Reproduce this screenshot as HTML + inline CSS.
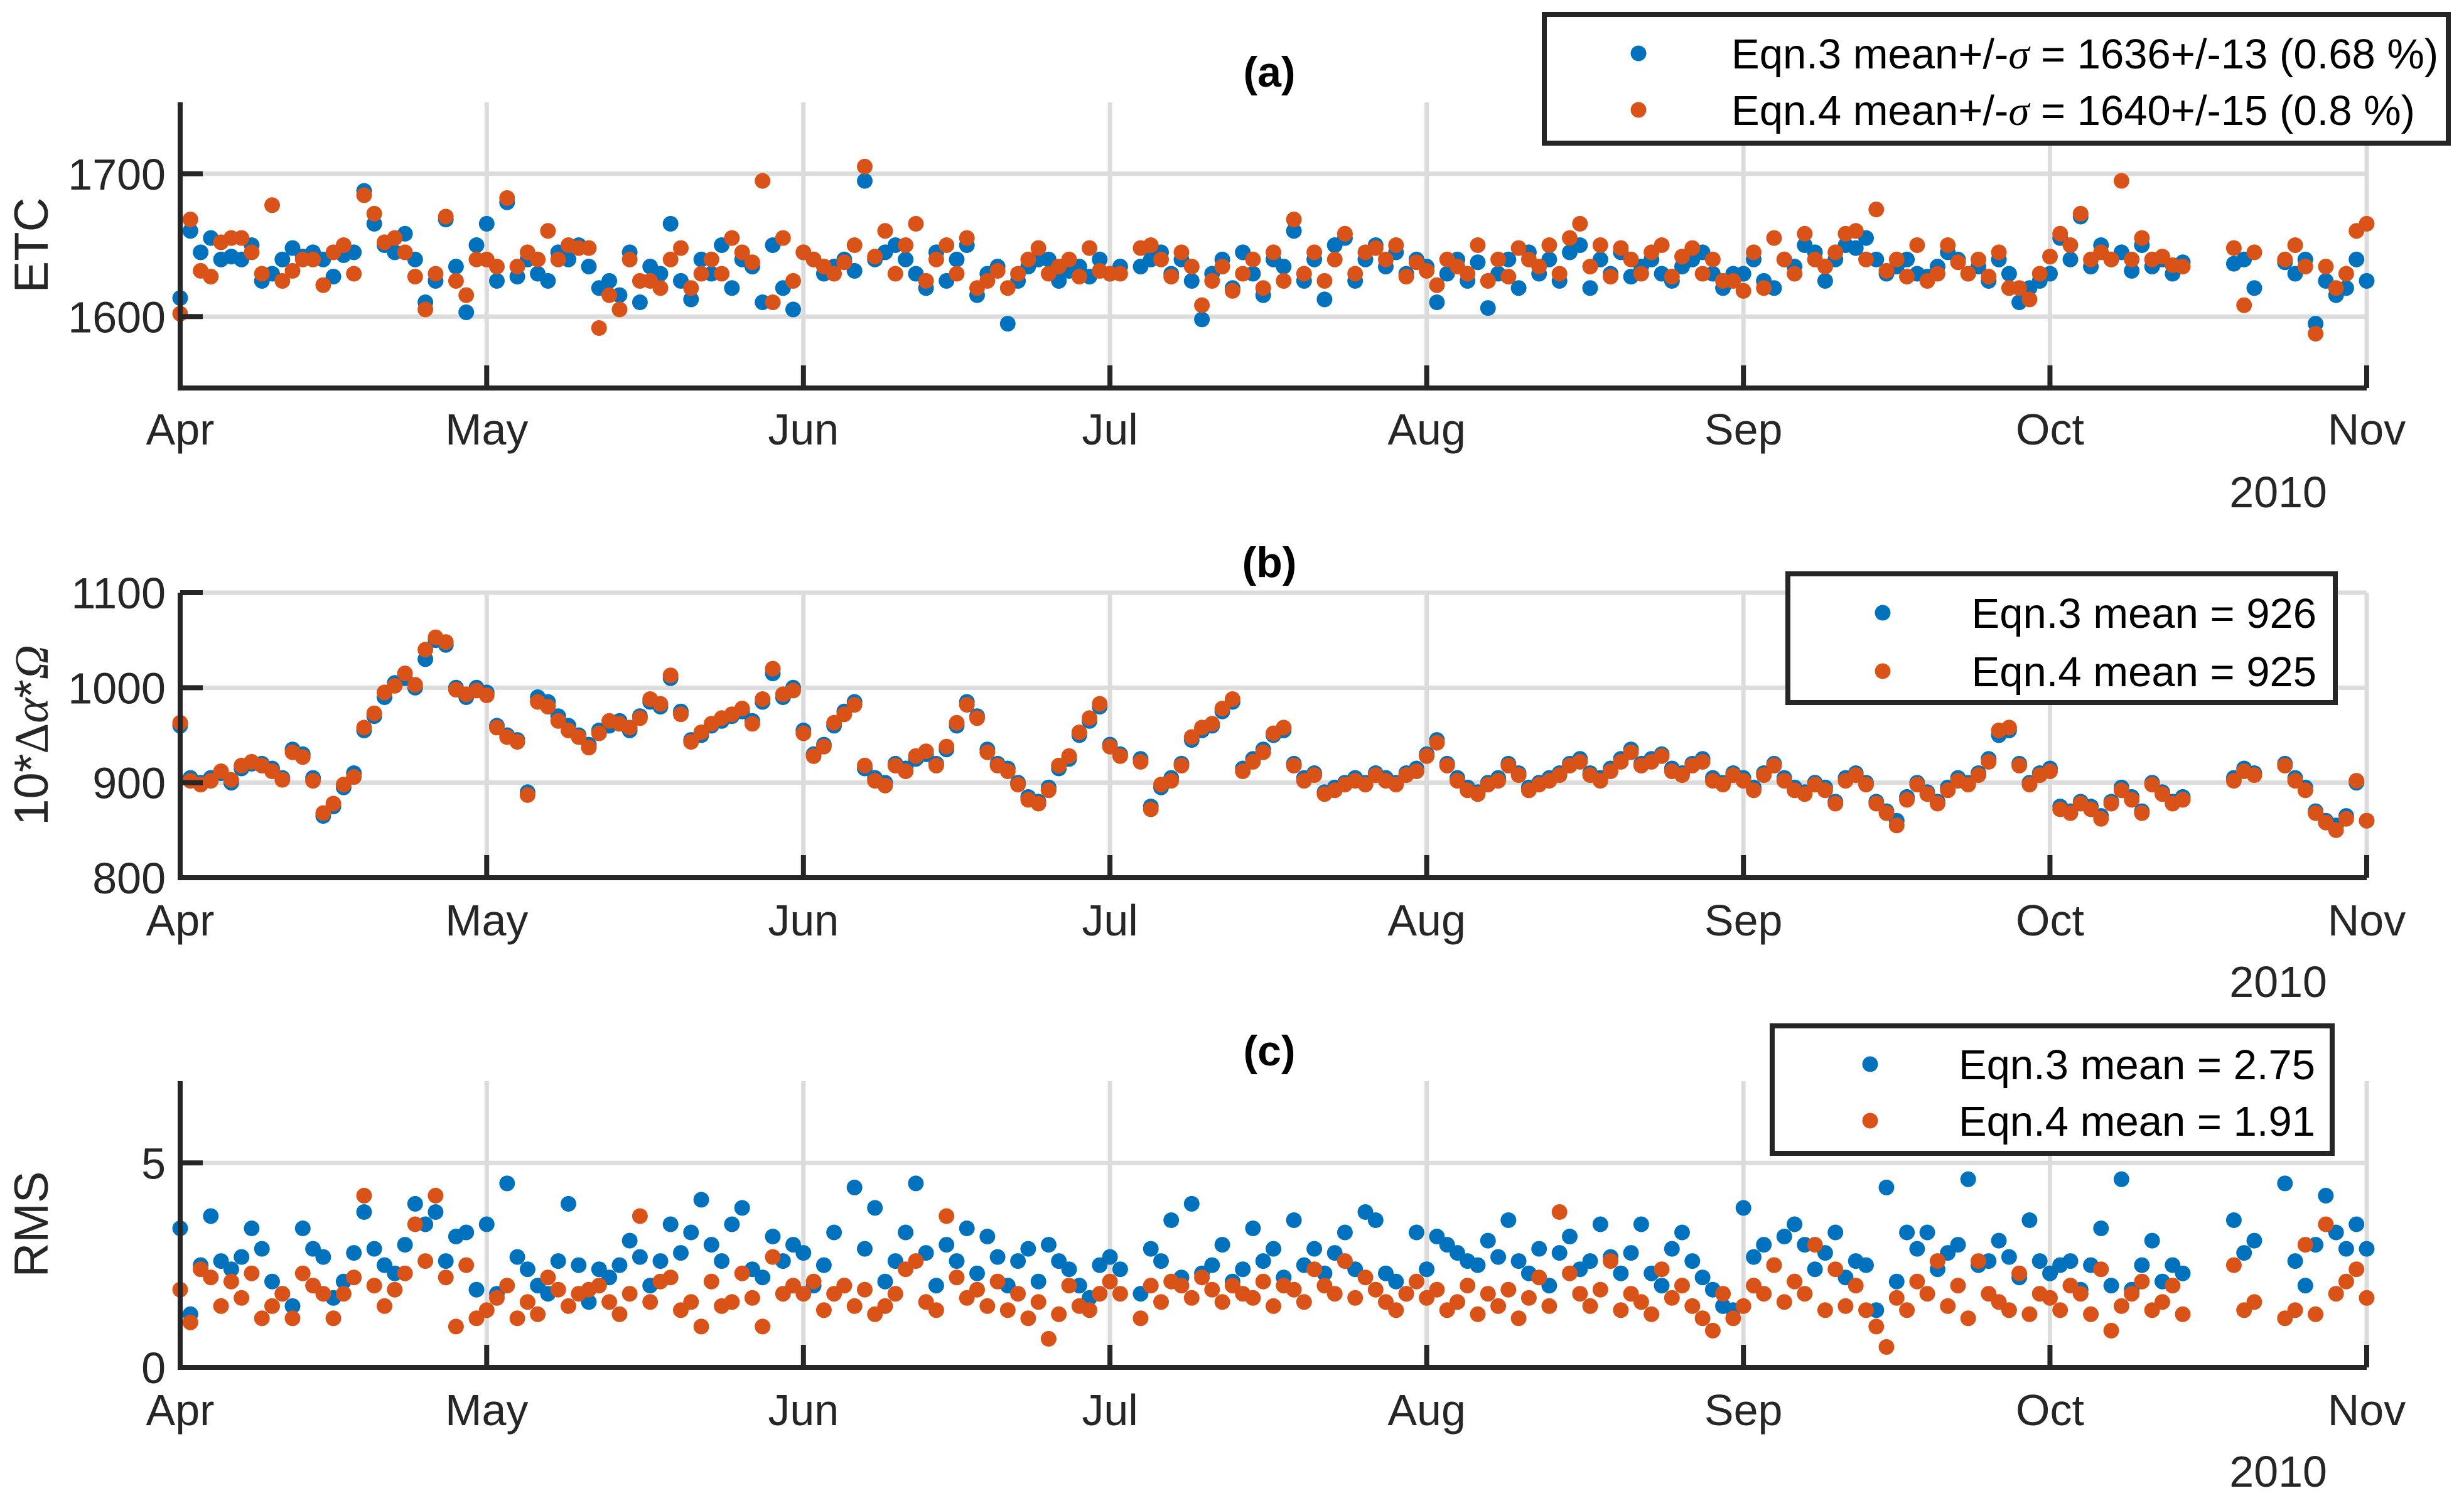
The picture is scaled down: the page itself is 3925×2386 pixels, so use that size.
<!DOCTYPE html>
<html><head><meta charset="utf-8"><style>
html,body{margin:0;padding:0;background:#fff}
svg{display:block;font-family:"Liberation Sans",Arial,sans-serif}
</style></head><body>
<svg id="chart" width="3925" height="2386" viewBox="0 0 3925 2386" xmlns="http://www.w3.org/2000/svg">
<rect width="3925" height="2386" fill="#fff"/>
<g id="root"></g>
</svg>
<script>
var monthLabels=["Apr","May","Jun","Jul","Aug","Sep","Oct","Nov"];
var monthDays=[0,30,61,91,122,153,183,214];
var aTicks=[1600,1700];
var bTicks=[800,900,1000,1100];
var cTicks=[0,5];
var a3=[1613,1660,1645,1655,1640,1642,1640,1650,1625,1630,1640,1648,1642,1645,1640,1628,1643,1645,1688,1665,1650,1645,1658,1640,1610,1625,1668,1635,1603,1650,
1665,1625,1680,1628,1640,1630,1625,1645,1640,1650,1635,1620,1625,1615,1645,1610,1635,1630,1665,1625,1612,1640,1630,1650,1620,1640,1635,1610,1650,1620,1605,
1645,1640,1630,1635,1640,1632,1695,1640,1645,1650,1640,1630,1620,1645,1625,1640,1650,1615,1630,1635,1595,1625,1635,1640,1640,1625,1632,1635,1628,1640,
1630,1635,null,1635,1640,1645,1630,1640,1625,1598,1630,1640,1620,1645,1630,1615,1640,1635,1660,1625,1640,1612,1650,1655,1625,1640,1650,1635,1645,1630,1640,
1635,1610,1630,1640,1625,1638,1606,1630,1640,1620,1645,1630,1640,1625,1645,1650,1620,1640,1630,1645,1628,1635,1640,1630,1625,1635,1640,1645,1630,1620,1630,
1630,1640,1625,1620,1640,1635,1650,1645,1625,1640,1650,1648,1655,1640,1630,1635,1640,1630,1628,1635,1645,1640,1630,1635,1625,1640,1630,1610,1620,1625,
1630,1655,1640,1670,1635,1650,1640,1645,1632,1650,1635,1640,1630,1638,null,null,null,null,1637,1640,1620,null,null,1638,1630,1640,1595,1625,1615,1620,1640,1625];
var a4=[1602,1668,1632,1628,1652,1655,1655,1645,1630,1678,1625,1632,1640,1640,1622,1645,1650,1630,1685,1672,1652,1655,1645,1628,1605,1630,1670,1625,1615,1640,
1640,1635,1683,1635,1645,1640,1660,1640,1650,1648,1648,1592,1615,1605,1640,1625,1625,1620,1640,1648,1620,1630,1640,1630,1655,1645,1638,1695,1610,1655,1625,
1645,1640,1635,1630,1638,1650,1705,1642,1660,1630,1650,1665,1625,1640,1650,1630,1655,1620,1625,1632,1620,1630,1640,1648,1630,1635,1640,1628,1648,1632,
1630,1630,null,1648,1650,1640,1628,1645,1635,1608,1625,1635,1618,1630,1640,1620,1645,1625,1668,1630,1645,1625,1640,1658,1630,1645,1648,1640,1650,1628,1638,
1632,1622,1640,1635,1630,1650,1625,1640,1628,1648,1640,1635,1650,1630,1655,1665,1635,1650,1628,1648,1640,1630,1645,1650,1628,1642,1648,1630,1640,1625,1625,
1618,1645,1620,1655,1640,1630,1658,1640,1635,1645,1658,1660,1640,1675,1632,1640,1628,1650,1625,1630,1650,1638,1630,1640,1628,1645,1620,1620,1612,1630,
1642,1658,1650,1672,1640,1645,1640,1695,1640,1655,1640,1642,1636,1635,null,null,null,null,1648,1608,1645,null,null,1640,1650,1635,1588,1635,1620,1630,1660,1665];
var b3=[960,905,900,905,910,900,915,920,920,915,905,935,930,905,865,875,895,910,955,970,990,1005,1010,1000,1030,1050,1045,1000,990,1000,
995,960,950,945,890,990,985,970,960,950,940,955,960,965,955,970,985,980,1010,975,945,950,960,965,970,975,965,985,1015,990,1000,
955,930,940,960,975,985,915,905,900,920,915,925,930,920,935,960,985,970,935,920,915,900,885,880,895,915,925,950,965,980,
940,930,null,925,875,895,905,920,945,955,960,975,985,915,925,935,950,955,920,905,910,890,895,900,905,900,910,905,900,910,915,
930,945,920,905,895,890,900,905,920,910,895,900,905,910,920,925,910,905,915,925,935,920,925,930,915,910,920,925,905,900,910,
905,895,910,920,905,895,890,900,895,880,905,910,900,880,870,860,885,900,890,880,895,905,900,910,925,950,955,920,900,910,
915,875,870,880,875,865,880,895,885,870,900,890,880,885,null,null,null,null,905,915,910,null,null,920,905,895,870,860,855,865,900,860];
var b4=[963,902,898,902,912,903,918,922,918,912,903,932,927,902,868,878,898,906,958,973,995,1002,1015,1003,1040,1053,1048,998,993,997,
992,958,948,943,887,985,980,965,955,948,937,952,965,962,958,968,988,983,1013,972,943,953,962,968,972,978,962,988,1020,993,997,
952,928,938,963,972,982,918,902,897,918,912,928,933,918,938,963,982,968,932,918,912,898,882,878,892,918,928,953,968,983,
938,928,null,922,872,898,902,918,948,958,962,978,988,912,922,932,952,958,918,902,908,888,892,898,902,898,908,902,898,908,912,
928,942,918,902,892,888,898,902,918,908,892,898,902,908,918,922,908,902,912,922,932,918,922,928,912,908,918,922,902,898,908,
902,892,908,918,902,892,888,898,892,878,902,908,898,878,868,855,882,898,888,878,892,902,898,908,922,955,958,918,898,908,
912,872,868,878,872,862,878,892,882,868,898,888,878,882,null,null,null,null,902,912,908,null,null,918,902,892,868,858,850,862,902,860];
var c3=[3.4,1.3,2.5,3.7,2.6,2.4,2.7,3.4,2.9,2.1,1.8,1.5,3.4,2.9,2.7,1.7,2.1,2.8,3.8,2.9,2.5,2.3,3.0,4.0,3.5,3.8,2.6,3.2,3.3,1.9,
3.5,1.8,4.5,2.7,2.4,2.0,1.8,2.6,4.0,2.5,1.6,2.4,2.2,2.5,3.1,2.7,2.0,2.6,3.5,2.8,3.3,4.1,3.0,2.6,3.5,3.9,2.4,2.2,3.2,2.6,3.0,
2.8,2.0,2.5,3.3,2.0,4.4,2.9,3.9,2.1,2.6,3.3,4.5,2.8,2.0,3.0,2.6,3.4,2.3,3.2,2.7,2.0,2.6,2.9,2.1,3.0,2.6,2.4,2.0,1.7,2.5,
2.7,2.4,null,1.8,2.9,2.6,3.6,2.2,4.0,2.3,2.5,3.0,2.1,2.4,3.4,2.6,2.9,2.2,3.6,2.5,2.9,2.3,2.8,3.3,2.4,3.8,3.6,2.3,2.1,1.8,3.3,
2.4,3.2,3.0,2.8,2.6,2.5,3.1,2.7,3.6,2.6,2.3,2.9,2.0,2.8,3.2,2.4,2.6,3.5,2.7,2.3,2.8,3.5,2.3,2.0,2.9,3.3,2.6,2.2,1.9,1.5,1.4,
3.9,2.7,3.0,2.5,3.2,3.5,3.0,2.4,2.8,3.3,2.2,2.6,2.5,1.4,4.4,2.1,3.3,2.9,3.3,2.4,2.8,3.0,4.6,2.5,2.6,3.1,2.7,2.2,3.6,2.6,
2.3,2.5,2.6,1.9,2.5,3.4,2.0,4.6,1.9,2.5,3.1,2.1,2.5,2.3,null,null,null,null,3.6,2.8,3.1,null,null,4.5,2.6,2.0,3.0,4.2,3.3,2.9,3.5,2.9];
var c4=[1.9,1.1,2.4,2.2,1.5,2.1,1.7,2.3,1.2,1.5,1.8,1.2,2.3,2.0,1.8,1.2,1.8,2.2,4.2,2.0,1.5,1.9,2.3,3.5,2.6,4.2,2.2,1.0,2.5,1.2,
1.4,1.7,2.0,1.2,1.6,1.3,2.2,1.9,1.5,1.8,1.9,2.0,1.6,1.3,1.8,3.7,1.6,2.1,2.2,1.4,1.6,1.0,2.1,1.5,1.6,2.3,1.7,1.0,2.7,1.8,2.0,
1.8,2.1,1.4,1.8,2.0,1.5,1.9,1.3,1.5,1.8,2.4,2.6,1.6,1.4,3.7,2.2,1.7,1.9,1.5,2.1,1.4,1.8,1.2,1.6,0.7,1.3,2.0,1.5,1.4,1.8,
2.1,1.8,null,1.2,2.0,1.6,2.1,2.0,1.7,2.2,1.9,1.6,2.0,1.8,1.7,2.1,1.5,2.0,1.9,1.6,2.4,2.0,1.8,2.6,1.7,2.2,1.9,1.6,1.4,1.8,2.1,
1.7,1.9,1.4,1.6,2.0,1.3,1.8,1.5,1.9,1.2,1.7,2.2,1.5,3.8,2.3,1.8,1.5,1.9,2.6,1.4,1.8,1.6,1.3,2.4,1.7,2.0,1.5,1.2,0.9,1.8,1.2,
1.5,2.0,1.8,2.5,1.6,2.1,1.8,3.0,1.4,2.4,1.5,2.0,1.4,1.0,0.5,1.7,1.4,2.1,1.8,2.6,1.5,2.0,1.2,2.6,1.8,1.6,1.4,2.3,1.3,1.8,
1.7,1.4,2.0,1.8,1.3,2.4,0.9,1.5,1.8,2.1,1.4,1.6,2.0,1.3,null,null,null,null,2.5,1.4,1.6,null,null,1.2,1.4,3.0,1.3,3.5,1.8,2.1,2.4,1.7];

var NS="http://www.w3.org/2000/svg";
var root=document.getElementById('root');
var L=287,R=3770,MR=12.5;
function xs(d){return L+(R-L)*d/214;}
function mk(tag,at,parent){var e=document.createElementNS(NS,tag);for(var k in at)e.setAttribute(k,at[k]);(parent||root).appendChild(e);return e;}
var panels=[
 {id:'a',top:163,bot:618,min:1550,max:1750,ticks:aTicks,s3:a3,s4:a4,title:'(a)',ylab:['ETC'],lbY:708,yrY:808},
 {id:'b',top:944,bot:1398,min:800,max:1100,ticks:bTicks,s3:b3,s4:b4,title:'(b)',ylab:['10*','\u0394','\u03B1','*','\u03A9'],lbY:1490,yrY:1588},
 {id:'c',top:1722,bot:2178,min:0,max:7,ticks:cTicks,s3:c3,s4:c4,title:'(c)',ylab:['RMS'],lbY:2270,yrY:2368}
];
panels.forEach(function(p){
 var g=mk('g',{});
 
 
 function ys(v){return p.bot-(p.bot-p.top)*(v-p.min)/(p.max-p.min);}
 monthDays.forEach(function(d,i){
  if(i===0)return;
  var l=mk('line',{x1:xs(d),x2:xs(d),y1:p.top,y2:p.bot,stroke:'#dcdcdc','stroke-width':7},g);
  
  
 });
 p.ticks.forEach(function(t){
  if(t===p.min)return;
  var l=mk('line',{x1:L,x2:R,y1:ys(t),y2:ys(t),stroke:'#dcdcdc','stroke-width':7},g);
  
  
 });
 [[p.s3,'#0072BD','eqn3'],[p.s4,'#D95319','eqn4']].forEach(function(s){
  s[0].forEach(function(v,d){
   if(v===null)return;
   var c=mk('circle',{cx:xs(d).toFixed(1),cy:ys(v).toFixed(1),r:MR,fill:s[1]},g);
   
   
  });
 });
 var ax=mk('path',{d:'M'+L+' '+p.top+' L'+L+' '+p.bot+' L'+R+' '+p.bot,fill:'none',stroke:'#262626','stroke-width':8},g);
 
 
 monthDays.forEach(function(d,i){
  mk('line',{x1:xs(d),x2:xs(d),y1:p.bot,y2:p.bot-36,stroke:'#262626','stroke-width':8},g);
  var t=mk('text',{x:xs(d),y:p.lbY,'font-size':70,'text-anchor':'middle',fill:'#262626'},g);
  t.textContent=monthLabels[i];
  
  
 });
 p.ticks.forEach(function(tv){
  mk('line',{x1:L,x2:L+36,y1:ys(tv),y2:ys(tv),stroke:'#262626','stroke-width':8},g);
  var t=mk('text',{x:264,y:ys(tv)+25,'font-size':70,'text-anchor':'end',fill:'#262626'},g);
  t.textContent=tv;
  
  
 });
 var yr=mk('text',{x:3707,y:p.yrY,'font-size':70,'text-anchor':'end',fill:'#262626'},g);
 yr.textContent='2010';
 
 
 var ti=mk('text',{x:2022,y:p.top-25,'font-size':68,'font-weight':'bold','text-anchor':'middle',fill:'#000'},g);
 ti.textContent=p.title;
 
 
 var cy=(p.top+p.bot)/2;
 var yl=mk('text',{x:0,y:0,'font-size':76,'text-anchor':'middle',fill:'#262626',transform:'translate(76,'+cy+') rotate(-90)'},g);
 
 
 p.ylab.forEach(function(part){
  var ts=mk('tspan',{},yl);
  if(part==='\u03B1'||part==='\u03A9'||part==='\u0394'){ts.setAttribute('font-family','Liberation Serif, serif');}
  if(part==='\u03B1'||part==='\u03A9')ts.setAttribute('font-style','italic');
  ts.textContent=part;
 });
});
var legends=[
 {box:[2460,23,1440,205],mx:2610,tx:2758,rows:[85,175],labels:[['Eqn.3 mean+/-','\u03C3',' = 1636+/-13 (0.68 %)'],['Eqn.4 mean+/-','\u03C3',' = 1640+/-15 (0.8 %)']],fs:67},
 {box:[2848,914,872,205],mx:2999,tx:3690,anchor:'end',rows:[976,1069],labels:[['Eqn.3 mean = 926'],['Eqn.4 mean = 925']],fs:67},
 {box:[2823,1634,892,203],mx:2979,tx:3688,anchor:'end',rows:[1695,1785],labels:[['Eqn.3 mean = 2.75'],['Eqn.4 mean = 1.91']],fs:67}
];
var legCols=['#0072BD','#D95319'];
legends.forEach(function(lg,i){
 var g=mk('g',{});
 
 
 mk('rect',{x:lg.box[0],y:lg.box[1],width:lg.box[2],height:lg.box[3],fill:'#fff',stroke:'#262626','stroke-width':8},g);
 lg.rows.forEach(function(y,j){
  var c=mk('circle',{cx:lg.mx,cy:y,r:MR,fill:legCols[j]},g);
  
  
  var t=mk('text',{x:lg.tx,y:y+24,'font-size':lg.fs,fill:'#000','text-anchor':lg.anchor||'start'},g);
  
  
  var parts=lg.labels[j];
  parts.forEach(function(pt,k){
   var ts=mk('tspan',{},t);
   if(parts.length===3&&k===1){ts.setAttribute('font-style','italic');ts.setAttribute('font-family','Liberation Serif, serif');}
   ts.textContent=pt;
  });
 });
});
</script>
</body></html>
